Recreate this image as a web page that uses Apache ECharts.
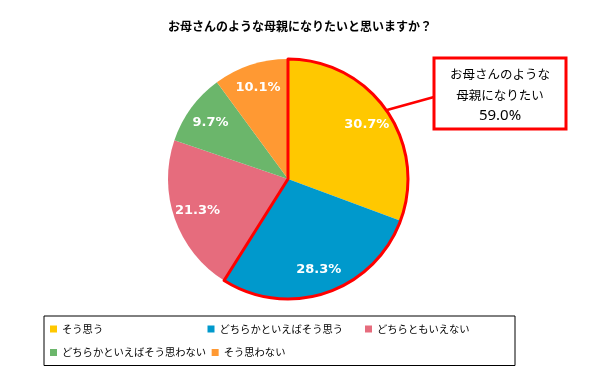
<!DOCTYPE html>
<html><head><meta charset="utf-8">
<script src="https://cdn.jsdelivr.net/npm/echarts@6/dist/echarts.min.js"></script>
<style>html,body{margin:0;padding:0;background:#fff}#c{width:600px;height:390px}</style>
</head><body><div id="c"></div>
<script>
const titleText = 'お母さんのような母親になりたいと思いますか？';
const categories = ['そう思う', 'どちらかといえばそう思う', 'どちらともいえない', 'どちらかといえばそう思わない', 'そう思わない'];
const values = [30.7, 28.3, 21.3, 9.7, 10.1];
const colors = ['#FFC800', '#0099CC', '#E66C7D', '#6BB66B', '#FF9933'];
const calloutLines = ['お母さんのような', '母親になりたい'];

const agreeSum = +(values[0] + values[1]).toFixed(1);
const restSum = +(values.slice(2).reduce((a, b) => a + b, 0)).toFixed(1);

const FONT = '"Noto Sans CJK JP", sans-serif';
const chart = echarts.init(document.getElementById('c'), null, {renderer: 'canvas'});
const center = [288, 179];
const R = 120;

chart.setOption({
  animation: false,
  title: {
    text: titleText, left: 'center', top: 15,
    textStyle: {fontFamily: FONT, fontSize: 12, fontWeight: 'bold', color: '#000'}
  },
  legend: {
    data: categories.map((n, i) => ({name: n, textStyle: {width: i === 2 ? 132 : 140}})),
    left: 44, top: 316, width: 470,
    orient: 'horizontal',
    padding: [4, 6, 4, 6],
    itemGap: 5.5, itemWidth: 7, itemHeight: 7,
    icon: 'rect',
    borderColor: '#000', borderWidth: 1,
    textStyle: {fontFamily: FONT, fontSize: 10.3, color: '#000', padding: [2, 0, 0, 0], lineHeight: 16}
  },
  series: [
    {
      type: 'pie', center: center, radius: [0, R], startAngle: 90, clockwise: true,
      silent: true,
      data: categories.map((n, i) => ({name: n, value: values[i], itemStyle: {color: colors[i]}})),
      label: {show: false}, labelLine: {show: false}
    },
    {
      type: 'pie', center: center, radius: [66, R], startAngle: 90, clockwise: true,
      silent: true, legendHoverLink: false,
      data: categories.map((n, i) => ({name: n + ' ', value: values[i], itemStyle: {color: 'rgba(0,0,0,0)'}})),
      label: {
        show: true, position: 'inside',
        formatter: p => values[p.dataIndex].toFixed(1) + '%',
        fontFamily: '"DejaVu Sans", sans-serif', fontSize: 13, fontWeight: 'bold', color: '#fff'
      },
      labelLine: {show: false}
    },
    {
      type: 'pie', center: center, radius: [0, R], startAngle: 90, clockwise: true,
      silent: true, legendHoverLink: false,
      data: [
        {name: 'agree', value: agreeSum, itemStyle: {color: 'rgba(0,0,0,0)', borderColor: '#FF0000', borderWidth: 3}},
        {name: 'rest', value: restSum, itemStyle: {color: 'rgba(0,0,0,0)', borderWidth: 0}}
      ],
      label: {show: false}, labelLine: {show: false}
    }
  ],
  graphic: [
    {type: 'line', shape: {x1: 387, y1: 110, x2: 434, y2: 97}, style: {stroke: '#FF0000', lineWidth: 2.5}, z: 10},
    {type: 'rect', shape: {x: 434, y: 58, width: 132, height: 71}, style: {fill: '#fff', stroke: '#FF0000', lineWidth: 3}, z: 10},
    {type: 'text', x: 500, y: 95, z: 11,
      style: {
        text: calloutLines.map(l => '{a|' + l + '}').join('\n') + '\n{b|' + agreeSum.toFixed(1) + '%}',
        rich: {
          a: {fontFamily: FONT, fontSize: 12.5, lineHeight: 21, fill: '#000', align: 'center'},
          b: {fontFamily: '"Noto Sans", sans-serif', fontSize: 15, lineHeight: 21, fill: '#000', align: 'center'}
        },
        align: 'center', verticalAlign: 'middle'}}
  ]
});
</script></body></html>
